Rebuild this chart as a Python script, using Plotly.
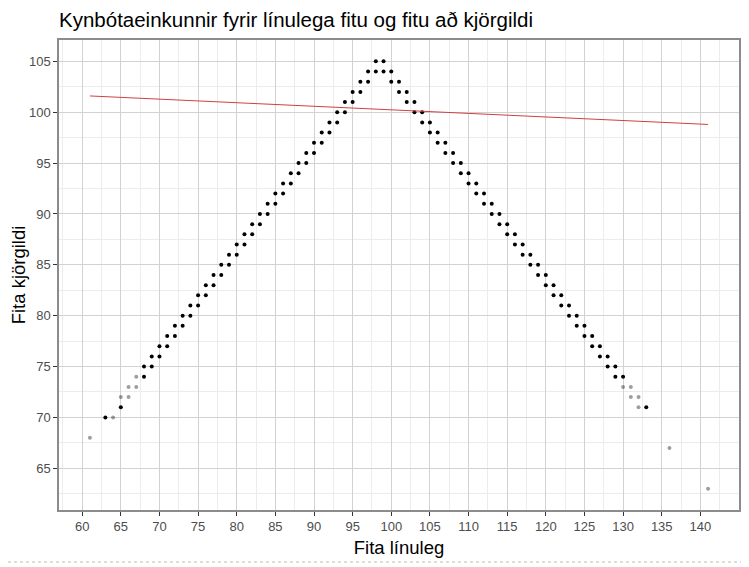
import plotly.graph_objects as go

# ---- data ----
# dark (overplotted) observations, row by row (Fita kjörgildi level)
dark_x = [98, 99,
          97, 98, 99, 100,
          96, 97, 100, 101,
          95, 96, 101, 102,
          94, 95, 102, 103,
          93, 94, 103, 104,
          92, 93, 104, 105,
          91, 92, 105, 106,
          90, 91, 106, 107,
          89, 90, 107, 108,
          88, 89, 108, 109,
          87, 88, 109, 110,
          86, 87, 110, 111,
          85, 86, 111, 112,
          84, 85, 112, 113,
          83, 84, 113, 114,
          82, 83, 114, 115,
          81, 82, 115, 116,
          80, 81, 116, 117,
          79, 80, 117, 118,
          78, 79, 118, 119,
          77, 78, 119, 120,
          76, 77, 120, 121,
          75, 76, 121, 122,
          74, 75, 122, 123,
          73, 74, 123, 124,
          72, 73, 124, 125,
          71, 72, 125, 126,
          70, 71, 126, 127,
          69, 70, 127, 128,
          68, 69, 128, 129,
          68, 129, 130,
          65, 133,
          63]
dark_y = [105, 105,
          104, 104, 104, 104,
          103, 103, 103, 103,
          102, 102, 102, 102,
          101, 101, 101, 101,
          100, 100, 100, 100,
          99, 99, 99, 99,
          98, 98, 98, 98,
          97, 97, 97, 97,
          96, 96, 96, 96,
          95, 95, 95, 95,
          94, 94, 94, 94,
          93, 93, 93, 93,
          92, 92, 92, 92,
          91, 91, 91, 91,
          90, 90, 90, 90,
          89, 89, 89, 89,
          88, 88, 88, 88,
          87, 87, 87, 87,
          86, 86, 86, 86,
          85, 85, 85, 85,
          84, 84, 84, 84,
          83, 83, 83, 83,
          82, 82, 82, 82,
          81, 81, 81, 81,
          80, 80, 80, 80,
          79, 79, 79, 79,
          78, 78, 78, 78,
          77, 77, 77, 77,
          76, 76, 76, 76,
          75, 75, 75, 75,
          74, 74, 74,
          71, 71,
          70]

# single (light) observations
light_x = [67, 66, 67, 130, 131, 65, 66, 131, 132, 132, 64, 61, 136, 141]
light_y = [74, 73, 73, 73, 73, 72, 72, 72, 72, 71, 70, 68, 67, 63]

# linear fit line (ends)
fit_x = [61, 141]
fit_y = [101.6, 98.8]

x_ticks = list(range(60, 141, 5))
y_ticks = list(range(65, 106, 5))

FONT = "Liberation Sans, Arial, sans-serif"

fig = go.Figure()
fig.add_trace(go.Scatter(x=light_x, y=light_y, mode="markers",
                         marker=dict(size=4, color="rgba(0,0,0,0.38)"),
                         hoverinfo="x+y", showlegend=False))
fig.add_trace(go.Scatter(x=dark_x, y=dark_y, mode="markers",
                         marker=dict(size=4, color="black"),
                         hoverinfo="x+y", showlegend=False))
fig.add_trace(go.Scatter(x=fit_x, y=fit_y, mode="lines",
                         line=dict(color="rgb(208,64,64)", width=1),
                         hoverinfo="skip", showlegend=False))

axis_common = dict(
    showline=True, mirror=True, linecolor="#8c8c8c", linewidth=1.5,
    ticks="outside", ticklen=4, tickwidth=1, tickcolor="#333333",
    showgrid=True, gridcolor="#d2d2d2", gridwidth=1.4,
    zeroline=False, automargin=False,
    tickfont=dict(family=FONT, size=13, color="#4d4d4d"),
)

W, H = 741, 559
L, T, PW, PH = 51, 32, 680, 470

fig.update_layout(
    width=W, height=H,
    paper_bgcolor="white", plot_bgcolor="white",
    margin=dict(l=L, r=W - L - PW, t=T, b=H - T - PH),
    title=dict(text="Kynbótaeinkunnir fyrir línulega fitu og fitu að kjörgildi",
               x=L/W, xref="container", xanchor="left",
               y=1-12/H, yref="container", yanchor="middle",
               font=dict(family=FONT, size=20.5, color="black")),
    xaxis=dict(range=[57, 145], tickmode="array", tickvals=x_ticks,
               minor=dict(dtick=2.5, tick0=57.5, showgrid=True, gridcolor="#ececec", gridwidth=0.8, ticks=""),
               title=dict(text="Fita línuleg", standoff=8,
                          font=dict(family=FONT, size=18.5, color="black")),
               **axis_common),
    yaxis=dict(range=[60.9, 107.1], tickmode="array", tickvals=y_ticks,
               minor=dict(dtick=2.5, tick0=62.5, showgrid=True, gridcolor="#ececec", gridwidth=0.8, ticks=""),
               title=dict(text="Fita kjörgildi", standoff=5,
                          font=dict(family=FONT, size=18.5, color="black")),
               **axis_common),
    shapes=[dict(type="line", xref="paper", yref="paper",
                 x0=-L/PW, x1=(W - L)/PW, y0=-52/PH, y1=-52/PH,
                 line=dict(color="#bbbbbb", width=1, dash="dot"))],
)

fig.write_html("out.html")
